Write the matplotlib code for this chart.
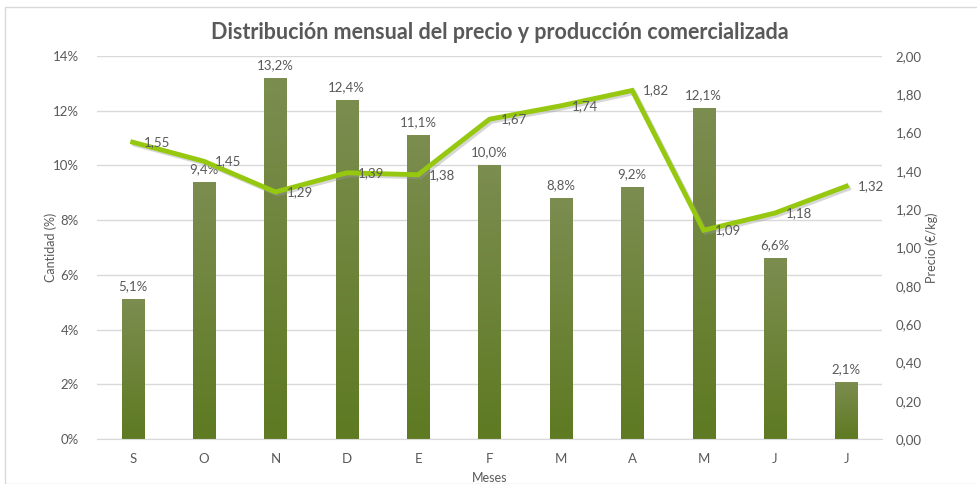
import matplotlib
matplotlib.use("Agg")
import matplotlib.pyplot as plt
import numpy as np
from matplotlib import patheffects as pe
from matplotlib.patches import Rectangle
from matplotlib.colors import LinearSegmentedColormap

months = ["S", "O", "N", "D", "E", "F", "M", "A", "M", "J", "J"]
cantidad = [5.1, 9.4, 13.2, 12.4, 11.1, 10.0, 8.8, 9.2, 12.1, 6.6, 2.1]
precio = [1.55, 1.45, 1.29, 1.39, 1.38, 1.67, 1.74, 1.82, 1.09, 1.18, 1.32]
left_ticks = [0, 2, 4, 6, 8, 10, 12, 14]
right_ticks = [0.0, 0.2, 0.4, 0.6, 0.8, 1.0, 1.2, 1.4, 1.6, 1.8, 2.0]

plt.rcParams['font.family'] = ['Lato', 'DejaVu Sans']
txt = '#595959'

fig = plt.figure(figsize=(9.78, 4.84), dpi=100)
fig.patches.append(Rectangle((5/978, 0), 1, 1 - 7/484, transform=fig.transFigure,
                             fill=False, edgecolor='#d9d9d9', lw=1))
ax = fig.add_axes([97/978, 1 - 439/484, 785/978, (439 - 56)/484])
x = np.arange(len(months))

bars = ax.bar(x, cantidad, width=0.31, color='none', edgecolor='none', zorder=2)
grad = np.linspace(0, 1, 256).reshape(-1, 1)
cmap = LinearSegmentedColormap.from_list('g', ['#5e7a22', '#7c8d50'])
for b in bars:
    bx, by, bw, bh = b.get_x(), b.get_y(), b.get_width(), b.get_height()
    im = ax.imshow(grad, extent=[bx, bx + bw, by, by + bh], origin='lower',
                   cmap=cmap, aspect='auto', zorder=2)
    im.set_clip_path(b)
    ax.text(bx + bw / 2, bh + 0.25, f"{bh:.1f}%".replace('.', ','), ha='center',
            va='bottom', fontsize=9.5, color=txt, zorder=4)

ax.set_xlim(-0.5, len(months) - 0.5)
ax.set_ylim(0, 14)
ax.set_yticks(left_ticks)
ax.set_yticklabels([f"{t}%" for t in left_ticks])
ax.set_xticks(x)
ax.set_xticklabels(months)
ax.grid(axis='y', color='#d9d9d9', lw=1, zorder=0)
ax.set_axisbelow(True)
for s in ['top', 'right', 'left']:
    ax.spines[s].set_visible(False)
ax.spines['bottom'].set_color('#d9d9d9')
ax.tick_params(axis='both', length=0, colors=txt, labelsize=9.5)
ax.tick_params(axis='x', pad=10)
ax.tick_params(axis='y', pad=13)
ax.set_ylabel("Cantidad (%)", fontsize=9, color=txt)
ax.yaxis.set_label_coords(-0.051, 0.5)
ax.set_xlabel("Meses", fontsize=9, color=txt, labelpad=5)

ax2 = ax.twinx()
ax2.set_ylim(0, 2.0)
ax2.set_yticks(right_ticks)
ax2.set_yticklabels([f"{t:.2f}".replace('.', ',') for t in right_ticks])
for s in ax2.spines.values():
    s.set_visible(False)
ax2.tick_params(axis='y', length=0, colors=txt, labelsize=9.5, pad=10)
ax2.set_ylabel("Precio (€/kg)", fontsize=9, color=txt)
ax2.yaxis.set_label_coords(1.055, 0.5)
ax2.plot(x, precio, color='#95c80e', lw=3.5, solid_joinstyle='miter', zorder=3,
         path_effects=[pe.SimpleLineShadow(offset=(1.5, -1.5), shadow_color='#999999', alpha=0.4),
                       pe.Normal()])
for xi, p in zip(x, precio):
    ax2.annotate(f"{p:.2f}".replace('.', ','), (xi, p), xytext=(8, 0),
                 textcoords='offset points', ha='left', va='center',
                 fontsize=9.5, color=txt, zorder=4)

fig.text(0.511, 1 - 33/484, "Distribución mensual del precio y producción comercializada",
         ha='center', va='center', fontsize=15.5, fontweight='bold', color=txt)

fig.savefig("out.png", dpi=100)
